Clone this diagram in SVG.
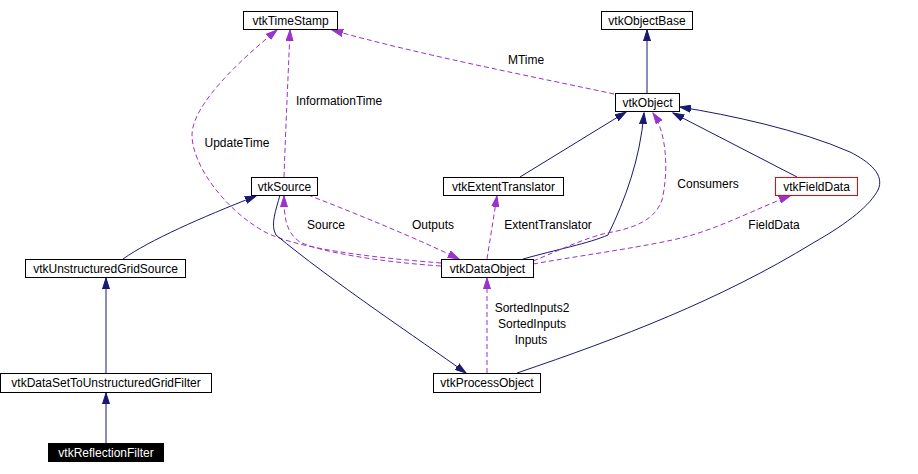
<svg xmlns="http://www.w3.org/2000/svg" width="918" height="474" viewBox="0 0 918 474">
<style>
.n rect{fill:#fff;stroke:#000;stroke-width:1}
.n rect.red{stroke:#ff0000 !important}
.n rect.blk{fill:#000}
.n text{font-family:"Liberation Sans",Arial,sans-serif;font-size:12px;text-anchor:middle;fill:#000}
.n text.wht{fill:#fff}
.inh{fill:none;stroke:#191970;stroke-width:1;marker-end:url(#an)}
.use{fill:none;stroke:#9a32cd;stroke-width:1;stroke-dasharray:5,3;marker-end:url(#ap)}
.lbl{font-family:"Liberation Sans",Arial,sans-serif;font-size:12px;text-anchor:middle;fill:#000}
</style>
<defs>
<marker id="an" markerUnits="userSpaceOnUse" markerWidth="12" markerHeight="8" refX="11" refY="4" orient="auto"><path d="M0,0.5 L11,4 L0,7.5 z" fill="#191970" stroke="#191970"/></marker>
<marker id="ap" markerUnits="userSpaceOnUse" markerWidth="12" markerHeight="8" refX="11" refY="4" orient="auto"><path d="M0,0.5 L11,4 L0,7.5 z" fill="#9a32cd" stroke="#9a32cd"/></marker>
</defs>
<rect width="918" height="474" fill="#fff"/>
<g id="edges">
<path class="inh" d="M647,93 L647,30"/>
<path class="use" d="M614,94 C540,78 420,55 332,30"/>
<text class="lbl" x="526" y="64">MTime</text>
<path class="use" d="M284,177 C286,120 288,80 290,30"/>
<text class="lbl" x="339" y="105">InformationTime</text>
<path class="use" d="M441,263 C380,258 300,250 265,232 C225,210 192,165 192,135 C192,105 240,60 277,30"/>
<text class="lbl" x="237" y="147">UpdateTime</text>
<path class="use" d="M441,266 C380,262 320,252 300,242 C285,232 284,215 284,196"/>
<text class="lbl" x="326" y="229">Source</text>
<path class="use" d="M308,195 C360,215 420,240 459,259"/>
<text class="lbl" x="433" y="229">Outputs</text>
<path class="use" d="M487,259 L497,196"/>
<text class="lbl" x="548" y="229">ExtentTranslator</text>
<path class="inh" d="M520,177 L626,112"/>
<path class="inh" d="M523,259 C555,250 590,243 608,235 C625,200 640,160 644,113"/>
<path class="inh" d="M797,177 L673,113"/>
<path class="inh" d="M517,373 C620,338 720,300 813,243 C850,222 870,205 878,190 C885,175 870,162 850,152 C800,130 730,115 680,107"/>
<path class="use" d="M533,261 C560,250 585,238 607,233 C635,228 655,220 662,200 C668,175 668,135 653,113"/>
<text class="lbl" x="708" y="188">Consumers</text>
<path class="use" d="M533,264 C590,254 650,246 685,237 C720,228 760,207 790,196"/>
<text class="lbl" x="774" y="229">FieldData</text>
<path class="inh" d="M123,259 C150,240 200,218 256,196"/>
<path class="inh" d="M280,195 C276,210 270,225 276,235 C330,280 420,340 466,373"/>
<path class="use" d="M487,373 L487,278"/>
<text class="lbl" x="532" y="312">SortedInputs2</text>
<text class="lbl" x="532" y="328">SortedInputs</text>
<text class="lbl" x="531" y="344">Inputs</text>
<path class="inh" d="M106,373 L106,278"/>
<path class="inh" d="M106,443 L106,393"/>
</g>
<g id="vtkTimeStamp" class="n"><rect x="243.5" y="11.5" width="94" height="18"/><text x="290.5" y="24.5">vtkTimeStamp</text></g>
<g id="vtkObjectBase" class="n"><rect x="601.5" y="11.5" width="91" height="18"/><text x="647" y="24.5">vtkObjectBase</text></g>
<g id="vtkObject" class="n"><rect x="615.5" y="93.5" width="64" height="18"/><text x="647.5" y="106.5">vtkObject</text></g>
<g id="vtkSource" class="n"><rect x="251.5" y="177.5" width="66" height="18"/><text x="284.5" y="190.5">vtkSource</text></g>
<g id="vtkExtentTranslator" class="n"><rect x="443.5" y="177.5" width="120" height="18"/><text x="503.5" y="190.5">vtkExtentTranslator</text></g>
<g id="vtkFieldData" class="n"><rect class="red" x="775.5" y="177.5" width="82" height="18" stroke="#ff0000"/><text x="816.5" y="190.5">vtkFieldData</text></g>
<g id="vtkUnstructuredGridSource" class="n"><rect x="25.5" y="259.5" width="160" height="18"/><text x="105.5" y="272.5">vtkUnstructuredGridSource</text></g>
<g id="vtkDataObject" class="n"><rect x="441.5" y="259.5" width="92" height="18"/><text x="487.5" y="272.5">vtkDataObject</text></g>
<g id="vtkDataSetToUnstructuredGridFilter" class="n"><rect x="0.5" y="373.5" width="211" height="19"/><text x="106" y="387">vtkDataSetToUnstructuredGridFilter</text></g>
<g id="vtkProcessObject" class="n"><rect x="433.5" y="373.5" width="107" height="19"/><text x="487" y="387">vtkProcessObject</text></g>
<g id="vtkReflectionFilter" class="n"><rect class="blk" x="48.5" y="443.5" width="115" height="18"/><text class="wht" x="106" y="456.5">vtkReflectionFilter</text></g>
</svg>
